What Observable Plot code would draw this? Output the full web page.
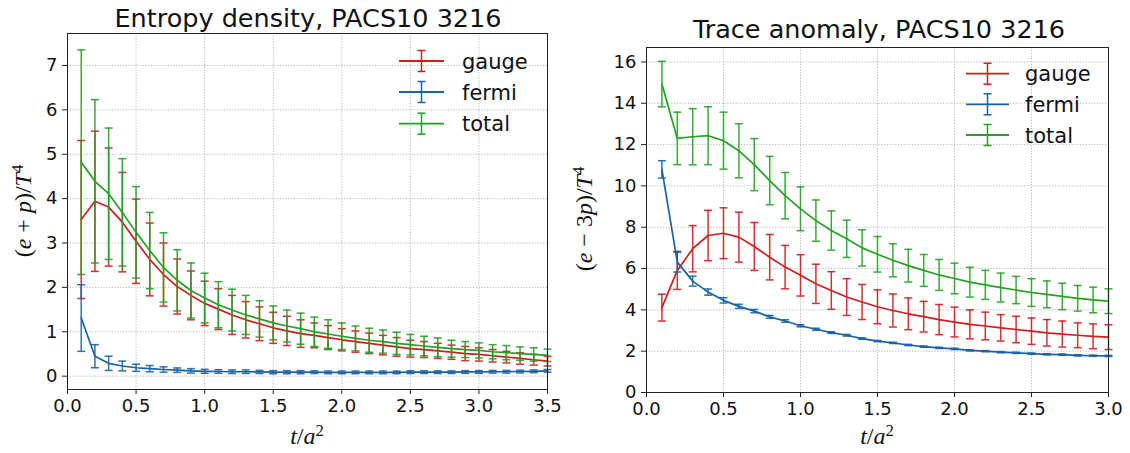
<!DOCTYPE html>
<html><head><meta charset="utf-8">
<script src="https://cdn.jsdelivr.net/npm/d3@7"></script>
<script src="https://cdn.jsdelivr.net/npm/@observablehq/plot@0.6"></script>
<style>
body{margin:0;background:#fff;}
#wrap{position:relative;width:1130px;height:453px;overflow:hidden;}
.panel{position:absolute;top:0;}
</style>
</head><body>
<div id="wrap"><div id="p1" class="panel" style="left:0"></div><div id="p2" class="panel" style="left:565px"></div></div>
<script>
// ---------- Entropy density panel data ----------
const tEntropy = [0.1,0.2,0.3,0.4,0.5,0.6,0.7,0.8,0.9,1.0,1.1,1.2,1.3,1.4,1.5,1.6,1.7,1.8,1.9,2.0,2.1,2.2,2.3,2.4,2.5,2.6,2.7,2.8,2.9,3.0,3.1,3.2,3.3,3.4,3.5];
const entGauge = [3.53,3.94,3.81,3.47,3.04,2.63,2.29,2.02,1.82,1.64,1.51,1.38,1.27,1.18,1.09,1.02,0.96,0.92,0.87,0.82,0.78,0.74,0.70,0.66,0.62,0.60,0.57,0.54,0.51,0.49,0.46,0.43,0.40,0.37,0.34];
const entGaugeErr = [1.78,1.58,1.33,1.12,0.95,0.82,0.71,0.62,0.55,0.50,0.46,0.44,0.41,0.38,0.35,0.33,0.31,0.28,0.27,0.25,0.24,0.23,0.22,0.21,0.19,0.18,0.17,0.16,0.16,0.15,0.14,0.13,0.13,0.12,0.11];
const entFermi = [1.31,0.45,0.29,0.23,0.19,0.17,0.15,0.135,0.12,0.11,0.105,0.10,0.10,0.095,0.09,0.09,0.09,0.09,0.085,0.085,0.085,0.085,0.085,0.085,0.09,0.09,0.09,0.09,0.095,0.095,0.10,0.10,0.105,0.11,0.12];
const entFermiErr = [0.75,0.26,0.16,0.11,0.08,0.07,0.06,0.05,0.05,0.045,0.04,0.04,0.04,0.035,0.035,0.035,0.035,0.03,0.03,0.03,0.03,0.03,0.03,0.03,0.03,0.03,0.03,0.03,0.03,0.03,0.03,0.03,0.03,0.03,0.03];
const entTotal = [4.82,4.39,4.11,3.69,3.24,2.83,2.45,2.16,1.93,1.76,1.61,1.49,1.38,1.29,1.20,1.13,1.07,1.00,0.95,0.90,0.85,0.81,0.78,0.74,0.71,0.68,0.65,0.62,0.60,0.58,0.55,0.53,0.51,0.49,0.47];
const entTotalErr = [2.53,1.84,1.48,1.21,1.03,0.86,0.78,0.69,0.62,0.56,0.52,0.47,0.44,0.41,0.38,0.36,0.35,0.33,0.32,0.30,0.28,0.27,0.26,0.25,0.23,0.22,0.21,0.19,0.18,0.17,0.16,0.16,0.15,0.15,0.14];

// ---------- Trace anomaly panel data ----------
const tTrace = [0.1,0.2,0.3,0.4,0.5,0.6,0.7,0.8,0.9,1.0,1.1,1.2,1.3,1.4,1.5,1.6,1.7,1.8,1.9,2.0,2.1,2.2,2.3,2.4,2.5,2.6,2.7,2.8,2.9,3.0];
const trGauge = [4.11,5.91,6.96,7.60,7.71,7.52,7.07,6.55,6.07,5.67,5.26,4.94,4.62,4.38,4.15,3.97,3.81,3.67,3.53,3.41,3.30,3.22,3.13,3.05,2.97,2.89,2.83,2.77,2.72,2.68];
const trGaugeErr = [0.65,0.92,1.12,1.22,1.23,1.21,1.16,1.10,1.05,1.00,0.95,0.91,0.89,0.85,0.82,0.80,0.77,0.74,0.73,0.72,0.70,0.67,0.64,0.64,0.64,0.64,0.63,0.60,0.60,0.60];
const trFermi = [10.8,6.31,5.39,4.86,4.46,4.17,3.94,3.66,3.46,3.23,3.06,2.90,2.77,2.61,2.49,2.40,2.30,2.22,2.16,2.11,2.04,2.00,1.95,1.92,1.88,1.85,1.83,1.80,1.78,1.77];
const trFermiErr = [0.42,0.48,0.24,0.15,0.13,0.10,0.08,0.07,0.06,0.05,0.05,0.04,0.04,0.035,0.03,0.03,0.03,0.03,0.03,0.03,0.03,0.03,0.03,0.03,0.03,0.03,0.03,0.03,0.03,0.03];
const trTotal = [14.93,12.30,12.38,12.43,12.19,11.70,11.03,10.26,9.53,8.89,8.32,7.84,7.44,7.00,6.69,6.40,6.14,5.91,5.69,5.52,5.34,5.21,5.08,4.96,4.84,4.75,4.65,4.56,4.48,4.42];
const trTotalErr = [1.10,1.27,1.36,1.40,1.38,1.31,1.26,1.17,1.12,1.06,1.00,0.95,0.90,0.88,0.86,0.80,0.79,0.77,0.75,0.74,0.72,0.70,0.70,0.66,0.67,0.65,0.64,0.62,0.62,0.60];

// ---------- ticks / labels ----------
const seriesNames = ["gauge","fermi","total"];
const seriesColors = ["#cf1c1c","#1a62a8","#25a025"];
const entXTicks = [0,0.5,1,1.5,2,2.5,3,3.5];
const entYTicks = [0,1,2,3,4,5,6,7];
const trXTicks = [0,0.5,1,1.5,2,2.5,3];
const trYTicks = [0,2,4,6,8,10,12,14,16];
const entTitle = "Entropy density, PACS10 3216";
const trTitle = "Trace anomaly, PACS10 3216";

const cap = {draw(ctx, size){ const w = Math.sqrt(size/Math.PI); ctx.moveTo(-w,0); ctx.lineTo(w,0); }};

function buildRows(xs, ys, es, name){
  return xs.map((x,i)=>({x, y: ys[i], lo: ys[i]-es[i], hi: ys[i]+es[i], name}));
}

function panel(cfg){
  const marks = [
    Plot.gridX(cfg.xTicks, {stroke:"#b0b0b0", strokeOpacity:1, strokeWidth:0.9, strokeDasharray:"1.2,1.6"}),
    Plot.gridY(cfg.yTicks, {stroke:"#b0b0b0", strokeOpacity:1, strokeWidth:0.9, strokeDasharray:"1.2,1.6"})
  ];
  cfg.series.forEach((d,k)=>{
    const c = seriesColors[k];
    marks.push(Plot.line(d, {x:"x", y:"y", stroke:c, strokeWidth:1.7}));
    marks.push(Plot.ruleX(d, {x:"x", y1:"lo", y2:"hi", stroke:c, strokeWidth:1.5, strokeOpacity:0.9}));
    marks.push(Plot.dot(d, {x:"x", y:"hi", symbol:cap, r:4, stroke:c, fill:"none", strokeWidth:1.5, strokeOpacity:0.9}));
    marks.push(Plot.dot(d, {x:"x", y:"lo", symbol:cap, r:4, stroke:c, fill:"none", strokeWidth:1.5, strokeOpacity:0.9}));
  });
  marks.push(Plot.frame({stroke:"#222", strokeWidth:1}));
  marks.push(Plot.axisX(cfg.xTicks, {tickSize:5, tickPadding:5, fontSize:18, tickFormat:d3.format(".1f"), label:null, stroke:"#222"}));
  marks.push(Plot.axisY(cfg.yTicks, {tickSize:5, tickPadding:5, fontSize:18, tickFormat:d=>String(d), label:null, stroke:"#222"}));
  const svg = Plot.plot({
    width:565, height:453,
    marginLeft:cfg.ml, marginRight:cfg.mr, marginTop:cfg.mt, marginBottom:cfg.mb,
    x:{domain:cfg.xDomain},
    y:{domain:cfg.yDomain},
    style:{fontFamily:"DejaVu Sans", color:"#111", background:"#fff", overflow:"visible"},
    marks
  });
  const s = d3.select(svg);
  // title
  s.append("text").attr("x", cfg.titleX).attr("y", cfg.titleY).attr("text-anchor","middle")
    .attr("font-family","DejaVu Sans").attr("font-size",25.5).attr("fill","#111").text(cfg.title);
  // y label
  const yl = s.append("text").attr("transform",`translate(${cfg.ylX},${cfg.ylY}) rotate(-90)`)
    .attr("text-anchor","middle").attr("font-family","Liberation Serif").attr("font-size",24).attr("fill","#111");
  cfg.ylParts.forEach(([t,it])=>{ yl.append("tspan").attr("font-style", it?"italic":"normal").text(t); });
  yl.append("tspan").attr("dy","-0.45em").attr("font-size","0.7em").text("4");
  // x label
  const xl = s.append("text").attr("x", cfg.xlX).attr("y", 444).attr("text-anchor","middle")
    .attr("font-family","Liberation Serif").attr("font-size",24).attr("fill","#111");
  xl.append("tspan").attr("font-style","italic").text("t");
  xl.append("tspan").text("/");
  xl.append("tspan").attr("font-style","italic").text("a");
  xl.append("tspan").attr("dy","-0.45em").attr("font-size","0.7em").text("2");
  // legend
  const g = s.append("g");
  seriesNames.forEach((name,i)=>{
    const y = cfg.legRows[i], c = seriesColors[i], cx = (cfg.legX1+cfg.legX2)/2;
    g.append("line").attr("x1",cfg.legX1).attr("x2",cfg.legX2).attr("y1",y).attr("y2",y).attr("stroke",c).attr("stroke-width",1.8);
    g.append("line").attr("x1",cx).attr("x2",cx).attr("y1",y-10.5).attr("y2",y+10.5).attr("stroke",c).attr("stroke-width",1.5);
    g.append("line").attr("x1",cx-4).attr("x2",cx+4).attr("y1",y-10.5).attr("y2",y-10.5).attr("stroke",c).attr("stroke-width",1.5);
    g.append("line").attr("x1",cx-4).attr("x2",cx+4).attr("y1",y+10.5).attr("y2",y+10.5).attr("stroke",c).attr("stroke-width",1.5);
    g.append("text").attr("x",cfg.legTX).attr("y",y+7.5).attr("text-anchor","start").attr("font-family","DejaVu Sans").attr("font-size",21).attr("fill","#111").text(name);
  });
  return svg;
}

document.getElementById("p1").appendChild(panel({
  series:[buildRows(tEntropy,entGauge,entGaugeErr,"gauge"), buildRows(tEntropy,entFermi,entFermiErr,"fermi"), buildRows(tEntropy,entTotal,entTotalErr,"total")],
  xTicks:entXTicks, yTicks:entYTicks, xDomain:[0,3.5], yDomain:[-0.3,7.72],
  ml:67, mr:18, mt:33, mb:64,
  title:entTitle, titleX:308, titleY:27,
  ylX:31, ylY:211, ylParts:[["(",0],["e",1],[" + ",0],["p",1],[")/",0],["T",1]],
  xlX:307,
  legX1:399, legX2:444, legTX:462, legRows:[61,92,123.7]
}));
document.getElementById("p2").appendChild(panel({
  series:[buildRows(tTrace,trGauge,trGaugeErr,"gauge"), buildRows(tTrace,trFermi,trFermiErr,"fermi"), buildRows(tTrace,trTotal,trTotalErr,"total")],
  xTicks:trXTicks, yTicks:trYTicks, xDomain:[0,3.0], yDomain:[0,16.7],
  ml:81, mr:22, mt:47, mb:61,
  title:trTitle, titleX:314, titleY:38,
  ylX:27, ylY:219, ylParts:[["(",0],["e",1],[" − 3",0],["p",1],[")/",0],["T",1]],
  xlX:312,
  legX1:401, legX2:444, legTX:460, legRows:[73.7,104.3,135]
}));
</script>
</body></html>
